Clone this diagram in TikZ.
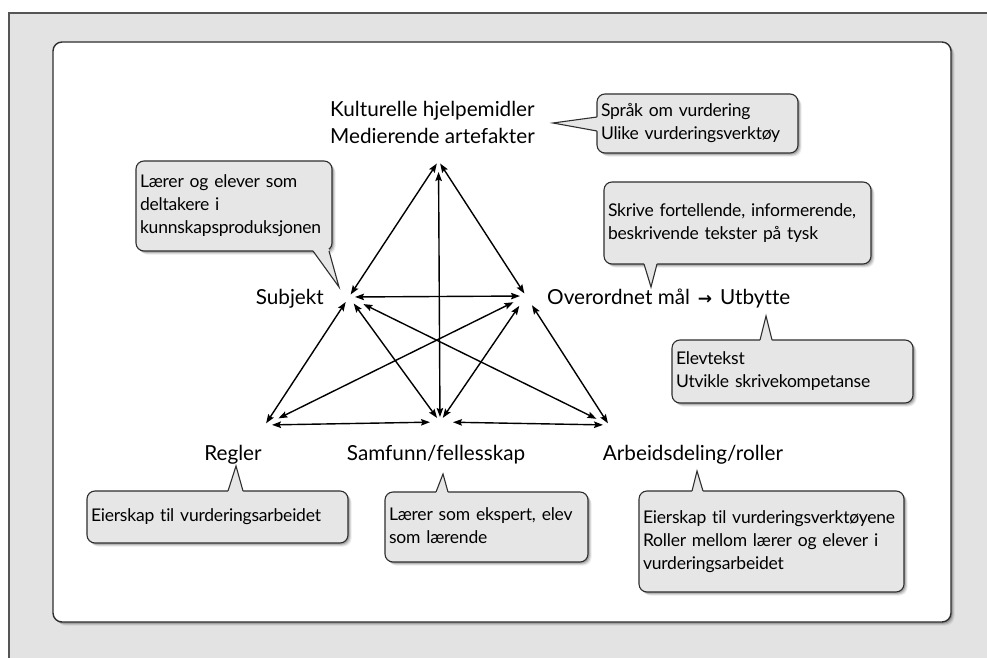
\documentclass[tikz,border=0pt]{standalone}
\usepackage{fontspec}
\setmainfont{Lato}[Ligatures=NoCommon]
\newfontfamily\symfont{DejaVu Sans}
\usetikzlibrary{arrows.meta,shadows,calc}

\definecolor{framegray}{HTML}{E3E3E3}
\definecolor{bubblegray}{HTML}{E6E6E6}
\definecolor{edgedark}{HTML}{2E2E2E}
\definecolor{frameline}{HTML}{555555}

% lines of a bubble text, kept unbroken
\newcommand{\bubblelines}[1]{\begin{tabular}{@{}l@{}}#1\end{tabular}}

\tikzset{
  softshadow/.style={
    general shadow={fill=black, opacity=.08, shadow xshift=3.5pt, shadow yshift=-3.5pt},
    general shadow={fill=black, opacity=.12, shadow xshift=2.5pt, shadow yshift=-2.5pt},
    general shadow={fill=black, opacity=.18, shadow xshift=1.5pt, shadow yshift=-1.5pt}},
  bubble/.style={draw=edgedark, line width=1.1pt, fill=bubblegray, rounded corners=8pt,
    softshadow, inner xsep=4pt, inner ysep=0pt, align=left,
    font=\fontsize{17.5}{23}\selectfont\addfontfeature{LetterSpace=-1.2}},
  bubbleedge/.style={draw=edgedark, line width=1.1pt, line join=miter},
  lbl/.style={inner sep=0pt, font=\fontsize{20.7}{27}\selectfont},
  rel/.style={{Stealth[length=9pt,width=6.5pt,inset=1.5pt]}-{Stealth[length=9pt,width=6.5pt,inset=1.5pt]},
    line width=1.4pt},
}

% pointer of a speech bubble: base start, tip, base end, shift into the bubble
\newcommand{\bubbletip}[4]{%
  \fill[bubblegray] ($(#1)+#4$) -- (#1) -- (#2) -- (#3) -- ($(#3)+#4$) -- cycle;
  \draw[bubbleedge] (#1) -- (#2) -- (#3);}

\begin{document}
\begin{tikzpicture}[x=1pt,y=-1pt]
\useasboundingbox (0,0) rectangle (987,658);

% outer frame and white panel
\fill[framegray] (9,13) rectangle (987,658);
\draw[frameline, line width=1.3pt] (9,658) -- (9,13) -- (987,13);
\path[draw=edgedark, line width=1.4pt, fill=white, rounded corners=9pt, softshadow]
  (53,42) rectangle (951,622);

% corners of the activity system
\coordinate (A) at (438.5,161);
\coordinate (S) at (349,297);
\coordinate (O) at (526,296);
\coordinate (R) at (265,425);
\coordinate (C) at (440,422);
\coordinate (D) at (609,425);

% labels
\node[lbl, anchor=north west, align=left] (kult) at (330,101)
  {Kulturelle hjelpemidler\\Medierende artefakter};
\node[lbl, anchor=base east] (subj) at (324,304) {Subjekt};
\node[lbl, anchor=base west] (mal) at (547,304)
  {Overordnet mål\hspace{8pt}{\symfont\bfseries\fontsize{17}{17}\selectfont →}\hspace{8pt}Utbytte};
\node[lbl, anchor=base] (regl) at (233,460) {Regler};
\node[lbl, anchor=base] (samf) at (436,460) {Samfunn/fellesskap};
\node[lbl, anchor=base] (arb) at (693,460) {Arbeidsdeling/roller};

% relations
\draw[rel, shorten <=3pt, shorten >=3pt] (A) -- (S);
\draw[rel, shorten <=3pt, shorten >=3pt] (A) -- (O);
\draw[rel, shorten <=5pt, shorten >=11pt] (C) -- (A);
\draw[rel, shorten <=6pt, shorten >=6pt] (S) -- (O);
\draw[rel, shorten <=6pt, shorten >=2pt] (S) -- (R);
\draw[rel, shorten <=8pt, shorten >=5pt] (S) -- (C);
\draw[rel, shorten <=16pt, shorten >=14pt] (S) -- (D);
\draw[rel, shorten <=14pt, shorten >=15pt] (O) -- (R);
\draw[rel, shorten <=12pt, shorten >=5pt] (O) -- (C);
\draw[rel, shorten <=11pt, shorten >=2pt] (O) -- (D);
\draw[rel, shorten <=7pt, shorten >=10pt] (R) -- (C);
\draw[rel, shorten <=13pt, shorten >=6pt] (C) -- (D);

% speech bubbles
\node[bubble, minimum width=201pt, minimum height=59pt, text width=193pt] (bspr) at (697.5,123.5)
  {\bubblelines{Språk om vurdering\\Ulike vurderingsverktøy}};
\bubbletip{597,117}{553,123}{597,131}{(2,0)}

\node[bubble, minimum width=196pt, minimum height=90pt, text width=188pt] (bsubj) at (234,206)
  {\bubblelines{Lærer og elever som\\deltakere i\\kunnskapsproduksjonen}};
\bubbletip{313,251}{339,287}{329,251}{(0,-2)}

\node[bubble, minimum width=267pt, minimum height=82pt, text width=259pt] (bskr) at (737.5,223)
  {\bubblelines{Skrive fortellende, informerende,\\beskrivende tekster på tysk}};
\bubbletip{644,264}{651,287}{657,264}{(0,-2)}

\node[bubble, minimum width=241pt, minimum height=63pt, text width=233pt] (belev) at (792.5,371.5)
  {\bubblelines{Elevtekst\\Utvikle skrivekompetanse}};
\bubbletip{760,340}{766,316}{772,340}{(0,2)}

\node[bubble, minimum width=261pt, minimum height=52pt, text width=253pt] (bregl) at (217.5,517)
  {\bubblelines{Eierskap til vurderingsarbeidet}};
\bubbletip{228,491}{236,466}{243,491}{(0,2)}

\node[bubble, minimum width=203pt, minimum height=70pt, text width=195pt] (bsamf) at (486.5,527)
  {\bubblelines{Lærer som ekspert, elev\\som lærende}};
\bubbletip{436,492}{443,474}{448,492}{(0,2)}

\node[bubble, minimum width=265pt, minimum height=101pt, text width=257pt] (barb) at (771.5,541.5)
  {\bubblelines{Eierskap til vurderingsverktøyene\\Roller mellom lærer og elever i\\vurderingsarbeidet}};
\bubbletip{692,491}{697,471}{703,491}{(0,2)}
\end{tikzpicture}
\end{document}
